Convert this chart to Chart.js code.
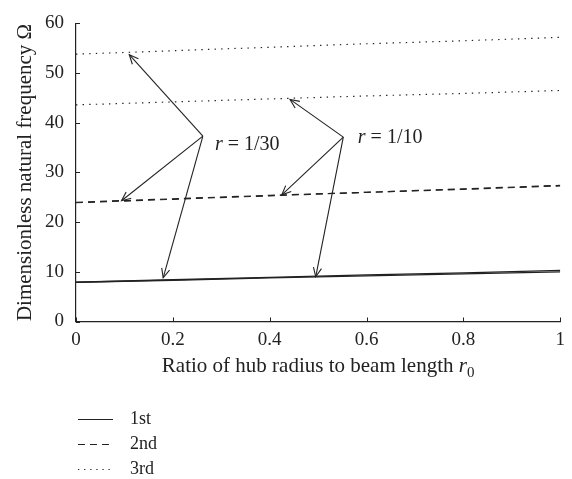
<!DOCTYPE html>
<html>
<head>
<meta charset="utf-8">
<script src="https://cdn.jsdelivr.net/npm/chart.js@4.4.1/dist/chart.umd.min.js"></script>
<style>
  html, body { margin: 0; padding: 0; background: #fff; }
  #wrap { width: 572px; height: 479px; }
</style>
</head>
<body>
<div id="wrap"><canvas id="freq-chart" width="572" height="479"></canvas></div>
<script>
// hub radius ratio r0
const r0Values = [0, 0.2, 0.4, 0.6, 0.8, 1];
// natural frequencies, r = 1/30 and r = 1/10
const mode1_r30 = [7.9, 8.3, 8.8, 9.2, 9.6, 10.0];
const mode1_r10 = [7.9, 8.4, 8.9, 9.4, 9.8, 10.3];
const mode2_r30 = [23.9, 24.6, 25.3, 26.0, 26.6, 27.3];
const mode2_r10 = [24.0, 24.7, 25.4, 26.0, 26.7, 27.4];
const mode3_r30 = [53.8, 54.5, 55.2, 55.9, 56.5, 57.2];
const mode3_r10 = [43.6, 44.2, 44.8, 45.4, 45.9, 46.5];

const xTicks = [0, 0.2, 0.4, 0.6, 0.8, 1];
const yTicks = [0, 10, 20, 30, 40, 50, 60];

const legendNames = ['1st', '2nd', '3rd'];

// annotation arrows: label text, label anchor, vertex, targets (data units)
const arrowLabels = ['r = 1/30', 'r = 1/10'];
const labelPos = [[0.287, 35.6], [0.582, 37.0]];
const arrowFrom = [[0.262, 37.3], [0.552, 37.1]];
const arrowTo = [
    [[0.110, 53.7], [0.094, 24.3], [0.180, 8.8]],
    [[0.442, 44.7], [0.425, 25.5], [0.495, 9.0]]
];

const INK = '#222';
const SERIF = '"Liberation Serif", "DejaVu Serif", serif';
const DASHES = [[], [7, 5], [1.4, 5.2]];

function pts(ys) {
    return ys.map((y, i) => ({ x: r0Values[i], y: y }));
}

function line(ys, mode) {
    return {
        data: pts(ys),
        borderColor: INK,
        borderWidth: mode === 0 ? 1.3 : 1.2,
        borderDash: DASHES[mode],
        pointRadius: 0,
        tension: 0,
        fill: false
    };
}

const extras = {
    id: 'extras',
    afterDraw(chart) {
        const ctx = chart.ctx;
        const xs = chart.scales.x;
        const ys = chart.scales.y;
        const area = chart.chartArea;
        ctx.save();
        ctx.strokeStyle = INK;
        ctx.lineWidth = 1;

        // inward tick marks
        yTicks.forEach(v => {
            const py = Math.round(ys.getPixelForValue(v)) + 0.5;
            ctx.beginPath();
            ctx.moveTo(area.left, py);
            ctx.lineTo(area.left + 4, py);
            ctx.stroke();
        });
        xTicks.forEach(v => {
            const px = Math.round(xs.getPixelForValue(v)) + 0.5;
            ctx.beginPath();
            ctx.moveTo(px, area.bottom);
            ctx.lineTo(px, area.bottom - 4);
            ctx.stroke();
        });

        // arrows
        ctx.lineWidth = 1.1;
        arrowFrom.forEach((from, k) => {
            const fx = xs.getPixelForValue(from[0]);
            const fy = ys.getPixelForValue(from[1]);
            arrowTo[k].forEach(t => {
                const tx = xs.getPixelForValue(t[0]);
                const ty = ys.getPixelForValue(t[1]);
                ctx.beginPath();
                ctx.moveTo(fx, fy);
                ctx.lineTo(tx, ty);
                ctx.stroke();
                const ang = Math.atan2(ty - fy, tx - fx);
                const len = 10, spread = 0.42;
                ctx.beginPath();
                ctx.moveTo(tx - len * Math.cos(ang - spread), ty - len * Math.sin(ang - spread));
                ctx.lineTo(tx, ty);
                ctx.lineTo(tx - len * Math.cos(ang + spread), ty - len * Math.sin(ang + spread));
                ctx.stroke();
            });
        });

        // r labels
        ctx.fillStyle = INK;
        ctx.textBaseline = 'middle';
        ctx.textAlign = 'left';
        arrowLabels.forEach((txt, k) => {
            let px = xs.getPixelForValue(labelPos[k][0]);
            const py = ys.getPixelForValue(labelPos[k][1]);
            ctx.font = 'italic 20px ' + SERIF;
            ctx.fillText('r', px, py);
            px += ctx.measureText('r').width;
            ctx.font = '20px ' + SERIF;
            ctx.fillText(txt.slice(1), px, py);
        });

        // axis titles
        const main = 'Ratio of hub radius to beam length ';
        ctx.font = 'italic 21px ' + SERIF;
        const rw = ctx.measureText('r').width;
        ctx.font = '15px ' + SERIF;
        const sw = ctx.measureText('0').width;
        ctx.font = '21px ' + SERIF;
        const mw = ctx.measureText(main).width;
        let tx = (area.left + area.right) / 2 - (mw + rw + sw) / 2;
        const ty = 366;
        ctx.fillText(main, tx, ty);
        tx += mw;
        ctx.font = 'italic 21px ' + SERIF;
        ctx.fillText('r', tx, ty);
        tx += rw;
        ctx.font = '15px ' + SERIF;
        ctx.fillText('0', tx, ty + 7);

        ctx.save();
        ctx.translate(25, (area.top + area.bottom) / 2);
        ctx.rotate(-Math.PI / 2);
        ctx.textAlign = 'center';
        ctx.font = '21px ' + SERIF;
        ctx.fillText('Dimensionless natural frequency \u03A9', 0, 0);
        ctx.restore();

        // legend
        ctx.font = '18px ' + SERIF;
        ctx.textAlign = 'left';
        legendNames.forEach((name, i) => {
            const ly = 419 + i * 25;
            ctx.setLineDash(i === 2 ? [1.3, 4.8] : (i === 1 ? [7, 5] : []));
            ctx.lineWidth = 1.1;
            ctx.beginPath();
            ctx.moveTo(78, ly + 0.5);
            ctx.lineTo(113, ly + 0.5);
            ctx.stroke();
            ctx.setLineDash([]);
            ctx.fillText(name, 130, ly);
        });
        ctx.restore();
    }
};

const ctx = document.getElementById('freq-chart').getContext('2d');
new Chart(ctx, {
    type: 'line',
    data: {
        datasets: [
            line(mode1_r30, 0), line(mode1_r10, 0),
            line(mode2_r30, 1), line(mode2_r10, 1),
            line(mode3_r30, 2), line(mode3_r10, 2)
        ]
    },
    options: {
        responsive: false,
        animation: false,
        layout: { padding: { top: 15.5, right: 8, bottom: 97.5, left: 0 } },
        plugins: { legend: { display: false }, tooltip: { enabled: false } },
        scales: {
            x: {
                type: 'linear',
                min: 0, max: 1,
                grid: { display: false, drawTicks: false },
                border: { display: true, color: INK, width: 1.2 },
                afterBuildTicks: s => { s.ticks = xTicks.map(v => ({ value: v })); },
                afterFit: s => { s.height = 60; },
                ticks: {
                    color: INK, padding: 7,
                    font: { family: SERIF, size: 19 },
                    callback: v => String(Math.round(v * 10) / 10)
                }
            },
            y: {
                min: 0, max: 60,
                grid: { display: false, drawTicks: false },
                border: { display: true, color: INK, width: 1.2 },
                afterBuildTicks: s => { s.ticks = yTicks.map(v => ({ value: v })); },
                afterFit: s => { s.width = 76; },
                ticks: {
                    color: INK, padding: 12,
                    font: { family: SERIF, size: 19 }
                }
            }
        }
    },
    plugins: [extras]
});
</script>
</body>
</html>
